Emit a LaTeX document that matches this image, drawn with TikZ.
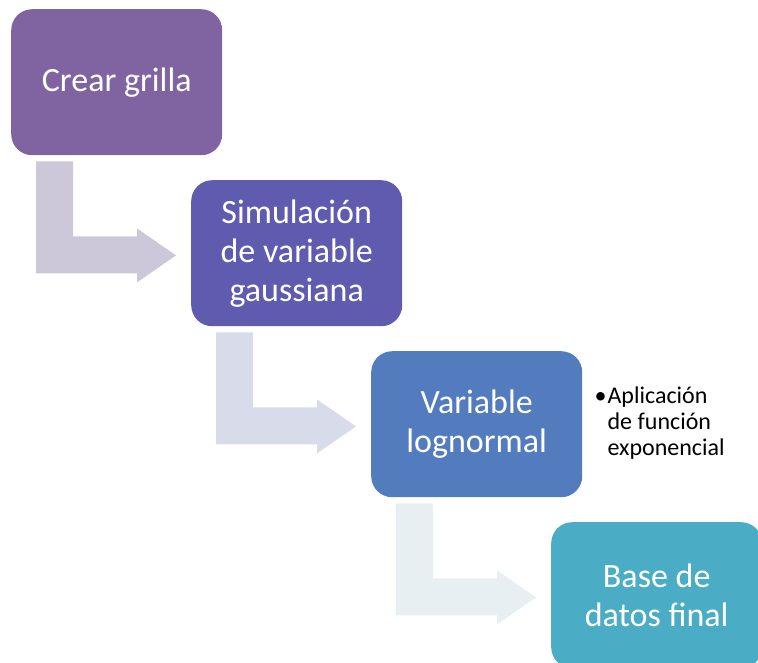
\documentclass[tikz,border=0pt]{standalone}
\usepackage{fontspec}
\setmainfont{Carlito}
\usetikzlibrary{calc}
\definecolor{boxA}{RGB}{128,100,162}
\definecolor{boxB}{RGB}{95,91,175}
\definecolor{boxC}{RGB}{83,124,190}
\definecolor{boxD}{RGB}{75,172,198}
\definecolor{arrA}{RGB}{205,199,218}
\definecolor{arrB}{RGB}{216,219,234}
\definecolor{arrC}{RGB}{232,239,243}
\tikzset{
  stepbox/.style={rounded corners=21pt, minimum width=211pt, minimum height=146pt,
    inner sep=0pt, text=white, align=center, font=\fontsize{34}{39}\selectfont}
}
\newcommand{\bendarr}[2]{%
  \fill[#2] ($(#1.south west)+(25,6)$) -- ($(#1.south west)+(62,6)$) -- ($(#1.south west)+(62,81)$)
   -- ($(#1.south west)+(126,81)$) -- ($(#1.south west)+(126,73)$) -- ($(#1.south west)+(165,100)$)
   -- ($(#1.south west)+(126,127)$) -- ($(#1.south west)+(126,118)$) -- ($(#1.south west)+(25,118)$) -- cycle;}
\begin{document}
\begin{tikzpicture}[x=1pt,y=-1pt]
\useasboundingbox (0,0) rectangle (758,662);
\clip (0,0) rectangle (758,662);
\node[stepbox, fill=boxA, anchor=north west] (b1) at (11,9) {Crear grilla};
\node[stepbox, fill=boxB, anchor=north west] (b2) at (191,180) {Simulación\\de variable\\gaussiana};
\node[stepbox, fill=boxC, anchor=north west] (b3) at (371,351) {Variable\\lognormal};
\node[stepbox, fill=boxD, anchor=north west] (b4) at (551,522) {Base de\\datos final};
\bendarr{b1}{arrA}
\bendarr{b2}{arrB}
\bendarr{b3}{arrC}
\node[anchor=west, align=left, inner sep=0pt, font=\fontsize{24}{26}\selectfont] (note) at ($(b3.east)+(25,-1)$)
 {\llap{•\hspace{1pt}}Aplicación\\de función\\exponencial};
\end{tikzpicture}
\end{document}
